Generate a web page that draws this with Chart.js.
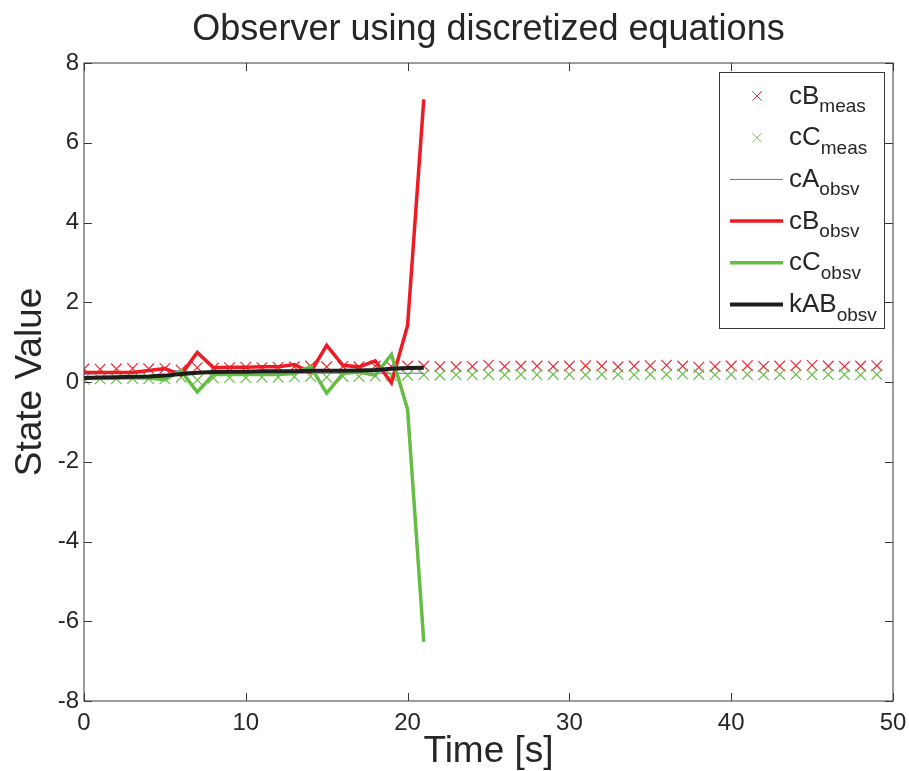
<!DOCTYPE html>
<html>
<head>
<meta charset="utf-8">
<script src="https://cdn.jsdelivr.net/npm/chart.js@4.4.1/dist/chart.umd.min.js"></script>
<style>
  html, body { margin: 0; padding: 0; background: #fff; }
  canvas { display: block; }
</style>
</head>
<body>
<canvas id="chart" width="909" height="771"></canvas>
<script>
// time axis (s)
const measTime = Array.from({ length: 50 }, (_, i) => i);
const obsvTime = Array.from({ length: 22 }, (_, i) => i);

// measured concentrations
const cBmeas = [0.33,0.32,0.33,0.34,0.33,0.34,0.30,0.36,0.35,0.36,0.37,0.36,0.37,0.38,0.40,0.38,0.39,0.38,0.40,0.39,
                0.40,0.40,0.39,0.38,0.39,0.42,0.39,0.40,0.40,0.39,0.40,0.41,0.40,0.38,0.40,0.41,0.42,0.40,0.37,0.39,
                0.40,0.41,0.39,0.40,0.41,0.42,0.40,0.39,0.40,0.41];
const cCmeas = [0.07,0.08,0.08,0.09,0.08,0.08,0.12,0.05,0.10,0.11,0.11,0.12,0.12,0.13,0.14,0.12,0.14,0.14,0.15,0.16,
                0.17,0.18,0.17,0.18,0.18,0.19,0.18,0.19,0.18,0.19,0.19,0.18,0.19,0.19,0.18,0.19,0.19,0.20,0.19,0.18,
                0.19,0.19,0.18,0.19,0.19,0.18,0.19,0.19,0.18,0.19];

// observer estimates
const cAobsv  = [0.20,0.21,0.22,0.24,0.28,0.30,0.27,0.24,0.23,0.23,0.22,0.22,0.22,0.22,0.22,0.22,0.22,0.22,0.22,0.22,0.22,0.22];
const cBobsv  = [0.24,0.24,0.24,0.24,0.29,0.34,0.18,0.74,0.36,0.37,0.37,0.38,0.38,0.44,0.24,0.92,0.42,0.38,0.53,-0.02,1.42,7.09];
const cCobsv  = [0.10,0.10,0.10,0.10,0.10,0.06,0.28,-0.25,0.19,0.19,0.19,0.19,0.19,0.21,0.39,-0.28,0.21,0.25,0.17,0.69,-0.69,-6.52];
const kABobsv = [0.10,0.11,0.12,0.13,0.14,0.16,0.20,0.23,0.25,0.26,0.26,0.27,0.27,0.27,0.28,0.28,0.28,0.29,0.30,0.33,0.35,0.36];

const xTicks = [0, 10, 20, 30, 40, 50];
const yTicks = [-8, -6, -4, -2, 0, 2, 4, 6, 8];

const pts = (xs, ys) => xs.map((x, i) => ({ x, y: ys[i] }));

const FONT = '"Liberation Sans", Arial, Helvetica, sans-serif';
const TXT = '#262626';
const AXIS = '#3a3a3a';

// title centred over the plot box (matlab style), not over the canvas
const plotTitle = {
  id: 'plotTitle',
  afterDraw(chart) {
    const { ctx, chartArea: a } = chart;
    ctx.save();
    ctx.fillStyle = TXT;
    ctx.font = '36px ' + FONT;
    ctx.textAlign = 'center';
    ctx.textBaseline = 'alphabetic';
    ctx.fillText('Observer using discretized equations', (a.left + a.right) / 2, 40);
    ctx.restore();
  }
};

// box around the axes with inward ticks on all four sides
const boxTicks = {
  id: 'boxTicks',
  afterDatasetsDraw(chart) {
    const { ctx, chartArea: a, scales } = chart;
    const len = 8;
    ctx.save();
    ctx.strokeStyle = AXIS;
    ctx.lineWidth = 1;
    ctx.strokeRect(a.left, a.top, a.right - a.left, a.bottom - a.top);
    ctx.beginPath();
    xTicks.forEach(v => {
      const px = Math.round(scales.x.getPixelForValue(v)) + 0.5;
      ctx.moveTo(px, a.bottom); ctx.lineTo(px, a.bottom - len);
      ctx.moveTo(px, a.top); ctx.lineTo(px, a.top + len);
    });
    yTicks.forEach(v => {
      const py = Math.round(scales.y.getPixelForValue(v)) + 0.5;
      ctx.moveTo(a.left, py); ctx.lineTo(a.left + len, py);
      ctx.moveTo(a.right, py); ctx.lineTo(a.right - len, py);
    });
    ctx.stroke();
    ctx.restore();
  }
};

// legend with subscripts
const subLegend = {
  id: 'subLegend',
  afterDraw(chart) {
    const { ctx } = chart;
    const bx = 719, by = 72, bw = 165, bh = 256;
    const rowH = 41.7, y0 = 96;
    ctx.save();
    ctx.fillStyle = '#fff';
    ctx.fillRect(bx, by, bw, bh);
    ctx.strokeStyle = AXIS;
    ctx.lineWidth = 1;
    ctx.strokeRect(bx + 0.5, by + 0.5, bw, bh);

    chart.data.datasets.forEach((ds, i) => {
      const cy = y0 + i * rowH;
      if (ds.showLine === false) {
        const cx = 757, r = 4.5;
        ctx.strokeStyle = ds.borderColor;
        ctx.lineWidth = 1;
        ctx.beginPath();
        ctx.moveTo(cx - r, cy - r); ctx.lineTo(cx + r, cy + r);
        ctx.moveTo(cx - r, cy + r); ctx.lineTo(cx + r, cy - r);
        ctx.stroke();
      } else {
        ctx.strokeStyle = ds.borderColor;
        ctx.lineWidth = ds.borderWidth;
        ctx.beginPath();
        ctx.moveTo(730, cy); ctx.lineTo(783, cy);
        ctx.stroke();
      }
      const [main, sub] = ds.label.split('_');
      ctx.fillStyle = TXT;
      ctx.textAlign = 'left';
      ctx.textBaseline = 'alphabetic';
      ctx.font = '26px ' + FONT;
      ctx.fillText(main, 789, cy + 7.5);
      const w = ctx.measureText(main).width;
      ctx.font = '19px ' + FONT;
      ctx.fillText(sub, 789 + w, cy + 16);
    });
    ctx.restore();
  }
};

const config = {
  type: 'line',
  data: {
    datasets: [
      {
        label: 'cB_meas',
        data: pts(measTime, cBmeas),
        showLine: false,
        pointStyle: 'crossRot',
        pointRadius: 7.5,
        pointBorderWidth: 1.2,
        borderColor: '#ee2a33',
        order: 6
      },
      {
        label: 'cC_meas',
        data: pts(measTime, cCmeas),
        showLine: false,
        pointStyle: 'crossRot',
        pointRadius: 7.5,
        pointBorderWidth: 1.2,
        borderColor: '#6cbf4a',
        order: 5
      },
      {
        label: 'cA_obsv',
        data: pts(obsvTime, cAobsv),
        borderColor: '#4f6fc0',
        borderWidth: 1,
        pointRadius: 0,
        order: 4
      },
      {
        label: 'cB_obsv',
        data: pts(obsvTime, cBobsv),
        borderColor: '#ed1c24',
        borderWidth: 3.5,
        pointRadius: 0,
        order: 3
      },
      {
        label: 'cC_obsv',
        data: pts(obsvTime, cCobsv),
        borderColor: '#66bd45',
        borderWidth: 3.5,
        pointRadius: 0,
        order: 2
      },
      {
        label: 'kAB_obsv',
        data: pts(obsvTime, kABobsv),
        borderColor: '#1f1c1d',
        borderWidth: 4,
        pointRadius: 0,
        order: 1
      }
    ]
  },
  options: {
    responsive: false,
    animation: false,
    layout: { padding: { left: 0, right: 16, top: 63, bottom: 0 } },
    plugins: {
      legend: { display: false },
      tooltip: { enabled: false },
      title: { display: false }
    },
    scales: {
      x: {
        type: 'linear',
        min: 0,
        max: 50,
        afterBuildTicks: s => { s.ticks = xTicks.map(v => ({ value: v })); },
        afterFit: s => { s.height = 70; s.paddingLeft = 0; s.paddingRight = 0; },
        grid: { display: false, drawTicks: false },
        border: { display: false },
        ticks: { color: TXT, padding: 8, maxRotation: 0, font: { family: FONT, size: 24 } },
        title: {
          display: true,
          text: 'Time [s]',
          color: TXT,
          font: { family: FONT, size: 37, weight: 'normal', lineHeight: 1 },
          padding: { top: 0, bottom: 1 }
        }
      },
      y: {
        type: 'linear',
        min: -8,
        max: 8,
        afterBuildTicks: s => { s.ticks = yTicks.map(v => ({ value: v })); },
        afterFit: s => { s.width = 84; },
        grid: { display: false, drawTicks: false },
        border: { display: false },
        ticks: { color: TXT, padding: 5, font: { family: FONT, size: 24 } },
        title: {
          display: true,
          text: 'State Value',
          color: TXT,
          font: { family: FONT, size: 37, weight: 'normal', lineHeight: 1 },
          padding: { top: 12, bottom: 0 }
        }
      }
    }
  },
  plugins: [plotTitle, boxTicks, subLegend]
};

new Chart(document.getElementById('chart').getContext('2d'), config);
</script>
</body>
</html>
